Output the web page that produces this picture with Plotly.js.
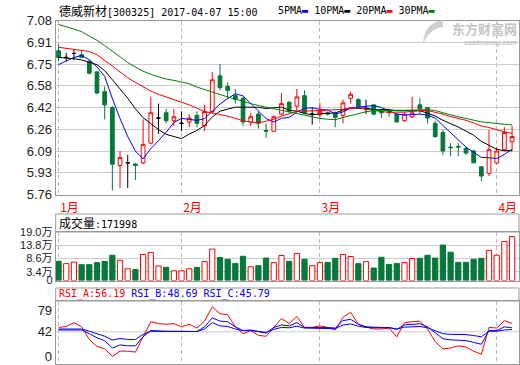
<!DOCTYPE html>
<html><head><meta charset="utf-8">
<script src="https://cdn.plot.ly/plotly-3.0.1.min.js"></script>
<style>html,body{margin:0;padding:0;background:#fff}#chart{width:520px;height:365px}</style>
</head><body><div id="chart"></div>
<script>
const dates = ['2017-01-05','2017-01-06','2017-01-09','2017-01-10','2017-01-11','2017-01-12','2017-01-13','2017-01-16','2017-01-17','2017-01-18','2017-01-19','2017-01-20','2017-01-23','2017-01-24','2017-01-25','2017-01-26',
'2017-02-03','2017-02-06','2017-02-07','2017-02-08','2017-02-09','2017-02-10','2017-02-13','2017-02-14','2017-02-15','2017-02-16','2017-02-17','2017-02-20','2017-02-21','2017-02-22','2017-02-23','2017-02-24','2017-02-27','2017-02-28',
'2017-03-01','2017-03-02','2017-03-03','2017-03-06','2017-03-07','2017-03-08','2017-03-09','2017-03-10','2017-03-13','2017-03-14','2017-03-15','2017-03-16','2017-03-17','2017-03-20','2017-03-21','2017-03-22','2017-03-23','2017-03-24','2017-03-27','2017-03-28','2017-03-29','2017-03-30','2017-03-31',
'2017-04-05','2017-04-06','2017-04-07'];
const openP  = [6.85,6.80,6.83,6.82,6.77,6.69,6.54,6.42,5.98,6.00,5.99,6.00,6.15,6.34,6.38,6.32,6.30,6.31,6.36,6.28,6.39,6.66,6.58,6.51,6.49,6.31,6.37,6.245,6.24,6.37,6.46,6.43,6.51,6.37,6.365,6.38,6.37,6.36,6.49,6.48,6.41,6.44,6.40,6.39,6.37,6.32,6.35,6.44,6.42,6.30,6.23,6.12,6.125,6.11,6.09,5.97,5.92,6.00,6.10,6.16];
const highP  = [6.90,6.835,6.86,6.85,6.78,6.70,6.58,6.43,6.09,6.06,6.00,6.33,6.50,6.45,6.41,6.41,6.39,6.37,6.39,6.44,6.69,6.75,6.61,6.56,6.50,6.38,6.39,6.30,6.36,6.53,6.47,6.56,6.55,6.42,6.455,6.39,6.39,6.48,6.54,6.49,6.48,6.44,6.40,6.40,6.37,6.38,6.50,6.49,6.42,6.32,6.25,6.15,6.15,6.12,6.10,5.975,6.25,6.12,6.27,6.28];
const lowP   = [6.77,6.77,6.78,6.80,6.67,6.52,6.33,5.79,5.81,5.81,5.87,5.99,6.14,6.22,6.30,6.28,6.24,6.27,6.27,6.24,6.37,6.55,6.49,6.45,6.28,6.28,6.26,6.19,6.235,6.36,6.38,6.39,6.37,6.29,6.335,6.36,6.27,6.30,6.45,6.41,6.37,6.36,6.34,6.35,6.31,6.31,6.34,6.37,6.30,6.19,6.06,6.05,6.05,6.06,6.00,5.86,5.90,5.99,6.09,6.09];
const closeP = [6.80,6.80,6.83,6.80,6.68,6.53,6.44,5.99,6.04,6.00,5.98,6.14,6.38,6.34,6.32,6.35,6.30,6.34,6.30,6.39,6.63,6.57,6.55,6.48,6.31,6.35,6.30,6.24,6.35,6.45,6.39,6.50,6.38,6.37,6.39,6.37,6.345,6.455,6.52,6.42,6.41,6.37,6.38,6.38,6.31,6.37,6.38,6.41,6.34,6.20,6.09,6.115,6.12,6.075,6.00,5.90,6.10,6.09,6.23,6.20];
const volume = [75000,66000,72000,62000,62000,70000,75000,99000,79000,46000,43500,102000,110000,57000,51500,38000,38000,46000,51500,74000,123000,90000,83000,67000,95000,54000,58000,88000,70000,98000,75000,106000,83000,58000,70000,71000,87000,102000,94000,66000,74000,49000,91000,63000,67000,70000,86000,87000,99000,88000,139000,111000,71000,71000,83000,87000,118000,99000,153000,171998];
const ma5  = [6.745,6.775,6.80,6.815,6.782,6.728,6.656,6.488,6.336,6.20,6.09,6.03,6.108,6.168,6.232,6.306,6.338,6.33,6.322,6.336,6.392,6.446,6.488,6.524,6.508,6.452,6.398,6.336,6.31,6.338,6.346,6.386,6.414,6.418,6.406,6.402,6.371,6.386,6.416,6.422,6.43,6.435,6.42,6.392,6.37,6.362,6.364,6.37,6.362,6.34,6.284,6.231,6.173,6.12,6.08,6.042,6.039,6.033,6.064,6.104];
const ma10 = [6.80,6.797,6.79,6.781,6.764,6.745,6.70,6.63,6.565,6.491,6.409,6.343,6.298,6.252,6.216,6.198,6.184,6.219,6.245,6.284,6.349,6.392,6.409,6.423,6.422,6.422,6.422,6.412,6.417,6.423,6.399,6.392,6.375,6.364,6.372,6.374,6.379,6.40,6.417,6.414,6.416,6.403,6.403,6.404,6.396,6.396,6.40,6.395,6.377,6.355,6.323,6.298,6.272,6.241,6.21,6.163,6.135,6.103,6.092,6.092];
const ma20 = [6.877,6.87,6.862,6.855,6.845,6.82,6.78,6.735,6.69,6.645,6.61,6.575,6.545,6.52,6.50,6.48,6.462,6.44,6.415,6.388,6.379,6.368,6.354,6.338,6.319,6.31,6.303,6.316,6.331,6.354,6.374,6.392,6.392,6.394,6.397,6.398,6.40,6.406,6.417,6.419,6.408,6.398,6.389,6.384,6.384,6.385,6.39,6.398,6.397,6.385,6.37,6.351,6.338,6.323,6.303,6.28,6.268,6.249,6.235,6.224];
const ma30 = [7.05,7.035,7.015,6.995,6.965,6.93,6.89,6.85,6.805,6.76,6.725,6.695,6.672,6.655,6.636,6.626,6.615,6.60,6.575,6.555,6.535,6.517,6.50,6.485,6.465,6.45,6.435,6.42,6.41,6.399,6.386,6.376,6.361,6.346,6.337,6.331,6.328,6.344,6.36,6.374,6.388,6.396,6.396,6.397,6.397,6.397,6.40,6.402,6.404,6.397,6.379,6.364,6.35,6.336,6.326,6.311,6.305,6.299,6.295,6.287];
const rsiA = [49.4,51.1,57.5,50.4,29.0,17.3,12.9,0.5,9.1,9.1,7.5,33.4,59.2,56.0,54.9,56.0,50.4,54.9,48.3,60.2,84.4,72.6,71.0,50.4,38.8,44.1,36.0,34.4,49.5,64.5,56.0,68.2,49.5,49.5,52.1,49.5,45.1,66.7,75.2,54.9,50.4,46.7,46.7,48.3,33.4,57.5,59.1,60.0,46.7,25.3,12.9,14.5,18.2,16.1,9.1,3.8,49.5,48.3,61,56.19];
const rsiB = [45.1,45.1,46.2,45.1,38.8,31.8,26.9,14.4,19.7,18.2,18.2,33.5,44.1,43.0,43.0,43.0,42.5,43.0,42.5,50.4,65.7,60.2,59.1,50.4,44.1,45.1,42.0,39.8,49.4,53.6,52.1,57.5,49.4,49.4,49.9,49.4,48.3,61.0,63.2,54.7,50.4,49.4,49.4,49.4,46.2,53.6,54.7,55.7,50.4,39.8,30.3,28.2,28.2,27.1,24.0,20.8,44.1,44.1,50.4,48.69];
const rsiC = [46.7,46.7,47.8,46.7,43.0,38.8,34.5,28.0,30.6,29.0,29.0,37.7,43.0,42.5,42.5,42.5,42.5,42.5,42.5,46.7,57.5,52.1,51.1,46.7,44.1,44.1,42.0,40.9,46.2,49.4,48.8,51.5,48.3,48.3,48.3,48.3,47.3,53.6,55.2,51.5,49.4,48.8,48.8,48.8,46.7,49.9,50.4,51.0,48.8,44.1,38.8,37.7,37.7,37.2,35.6,33.5,43.0,43.0,45.1,45.79];
const monthTicks = ['2017-01-05','2017-02-03','2017-03-01','2017-04-05'];
const monthLabels = ['1月','2月','3月','4月'];
const priceTicks = [5.76,5.925,6.09,6.255,6.42,6.585,6.75,6.915,7.08];
const priceLabels = ['5.76','5.93','6.09','6.26','6.42','6.58','6.75','6.91','7.08'];
const volTicks = [0,34000,86000,138000,190000];
const volLabels = ['0','3.4万','8.6万','13.8万','19.0万'];
const rsiTicks = [0,42,79];

const RED='#ff0000', GREEN='#06783a', BLUE='#0000ff';
const up=[],down=[],flat=[];
closeP.forEach((c,i)=>{ if(c>openP[i]) up.push(i); else if(c<openP[i]) down.push(i); else flat.push(i); });
const pick=(idx,a)=>idx.map(i=>a[i]);
function candle(idx,lc,fc){
  return {type:'candlestick',x:pick(idx,dates),open:pick(idx,openP),high:pick(idx,highP),low:pick(idx,lowP),close:pick(idx,closeP),
    xaxis:'x',yaxis:'y',whiskerwidth:0,hoverinfo:'skip',showlegend:false,
    increasing:{line:{color:lc,width:1},fillcolor:fc},decreasing:{line:{color:lc,width:1},fillcolor:fc}};
}
const line=(y,c,xa,ya,w)=>({type:'scatter',mode:'lines',x:dates,y:y,xaxis:xa,yaxis:ya,line:{color:c,width:w||1},hoverinfo:'skip',showlegend:false});
const volUp = closeP.map((c,i)=>c>=openP[i]);
const traces = [
  candle(up,RED,'#ffffff'), candle(down,GREEN,GREEN), candle(flat,'#000000','#000000'),
  line(ma5,BLUE,'x','y'), line(ma10,'#000000','x','y'), line(ma20,RED,'x','y'), line(ma30,'#008000','x','y'),
  {type:'bar',x:dates,y:volume,xaxis:'x2',yaxis:'y2',width:0.68,hoverinfo:'skip',showlegend:false,
   marker:{color:volUp.map(u=>u?'#ffffff':GREEN),line:{color:volUp.map(u=>u?RED:GREEN),width:1}}},
  line(rsiA,RED,'x3','y3'), line(rsiB,BLUE,'x3','y3'), line(rsiC,BLUE,'x3','y3')
];
const W=520,H=365;
const px=v=>v/W, py=v=>1-v/H;
const xdom=[px(55.7),px(519)];
const FR='#999999', GR='#cccccc';
const xbase={type:'category',categoryorder:'array',categoryarray:dates,range:[-0.37,59.9],domain:xdom,
  tickmode:'array',tickvals:monthTicks,ticktext:monthLabels,showgrid:true,gridcolor:'#bbbbbb',griddash:'4px,3px',gridwidth:1,
  ticks:'',showline:true,mirror:true,linecolor:FR,linewidth:1,zeroline:false,fixedrange:true,rangeslider:{visible:false}};
const mono='DejaVu Sans Mono, Noto Sans CJK SC';
const cjk=s=>'<span style="font-family:Noto Sans CJK SC;font-size:12px">'+s+'</span>';
const P=(x,y)=>px(x).toFixed(4)+','+py(y).toFixed(4);
const logoPath='M'+P(443,20)+' Q'+P(424,23)+' '+P(423,44)+' Q'+P(429,29)+' '+P(443,27)+' Z';
const layout={
  width:W,height:H,margin:{l:0,r:0,t:0,b:0},paper_bgcolor:'#fff',plot_bgcolor:'#fff',showlegend:false,hovermode:false,boxgap:0.31,
  font:{family:'Liberation Sans, Noto Sans CJK SC',size:12,color:'#222'},
  xaxis:Object.assign({},xbase,{anchor:'y',showticklabels:true,tickfont:{family:'Noto Sans CJK SC',size:12,color:RED},ticklabelshift:11,ticklabelstandoff:2}),
  xaxis2:Object.assign({},xbase,{anchor:'y2',matches:'x',showticklabels:false}),
  xaxis3:Object.assign({},xbase,{anchor:'y3',matches:'x',showticklabels:false}),
  yaxis:{domain:[py(194.5),py(20.5)],range:[5.76,7.08],tickmode:'array',tickvals:priceTicks,ticktext:priceLabels,
    showgrid:true,gridcolor:GR,showline:true,mirror:true,linecolor:FR,zeroline:false,ticks:'',fixedrange:true,
    tickfont:{family:'Liberation Sans',size:13,color:'#222'}},
  yaxis2:{domain:[py(280.5),py(232)],range:[0,190000],tickmode:'array',tickvals:volTicks,ticktext:volLabels,
    showgrid:true,gridcolor:GR,showline:true,mirror:true,linecolor:FR,zeroline:false,ticks:'',fixedrange:true,
    tickfont:{family:'Liberation Sans, Noto Sans CJK SC',size:11,color:'#222'}},
  yaxis3:{domain:[py(364),py(301)],range:[-12.7,94.3],tickmode:'array',tickvals:rsiTicks,ticklabeloverflow:'allow',
    showgrid:false,showline:true,mirror:true,linecolor:FR,zeroline:false,ticks:'',fixedrange:true,
    tickfont:{family:'Liberation Sans',size:13,color:'#222'}},
  shapes:[
    {type:'line',xref:'x3 domain',x0:0,x1:1,yref:'y3',y0:42,y1:42,line:{color:GR,width:1},layer:'below'},
    {type:'rect',xref:'paper',yref:'paper',x0:xdom[0],x1:xdom[1],y0:py(232),y1:py(214),line:{color:FR,width:1}},
    {type:'rect',xref:'paper',yref:'paper',x0:xdom[0],x1:xdom[1],y0:py(301),y1:py(288),line:{color:FR,width:1}},
    {type:'path',xref:'paper',yref:'paper',path:logoPath,fillcolor:'#cfcfcf',line:{width:0}}
  ],
  annotations:[
    {xref:'paper',yref:'paper',x:px(57),y:py(10),xanchor:'left',yanchor:'middle',showarrow:false,
     font:{family:mono,size:10,color:'#000'},text:cjk('德威新材')+'[300325] 2017-04-07 15:00'},
    {xref:'paper',yref:'paper',x:px(276),y:py(10),xanchor:'left',yanchor:'middle',showarrow:false,
     font:{family:mono,size:10,color:'#000'},
     text:'5PMA<span style="color:#0000ff">▬</span> 10PMA<span style="color:#000000">▬</span> 20PMA<span style="color:#ff0000">▬</span> 30PMA<span style="color:#008000">▬</span>'},
    {xref:'paper',yref:'paper',x:px(484),y:py(28),xanchor:'center',yanchor:'middle',showarrow:false,
     font:{family:'Noto Sans CJK SC',size:13,color:'#c4c4c4'},text:'<b>东方财富网</b>'},
    {xref:'paper',yref:'paper',x:px(490),y:py(43),xanchor:'center',yanchor:'middle',showarrow:false,
     font:{family:'Liberation Sans',size:7,color:'#c4c4c4'},text:'<b><i>eastmoney.com</i></b>'},
    {xref:'paper',yref:'paper',x:px(57),y:py(222),xanchor:'left',yanchor:'middle',showarrow:false,
     font:{family:mono,size:10,color:'#000'},text:cjk('成交量')+':'+volume[volume.length-1]},
    {xref:'paper',yref:'paper',x:px(57),y:py(294),xanchor:'left',yanchor:'middle',showarrow:false,
     font:{family:mono,size:10,color:BLUE},
     text:'<span style="color:#ff0000">RSI_A:'+rsiA[59].toFixed(2)+'</span> RSI_B:'+rsiB[59].toFixed(2)+' RSI_C:'+rsiC[59].toFixed(2)}
  ]
};
Plotly.newPlot('chart',traces,layout,{staticPlot:true,displayModeBar:false});
</script></body></html>
